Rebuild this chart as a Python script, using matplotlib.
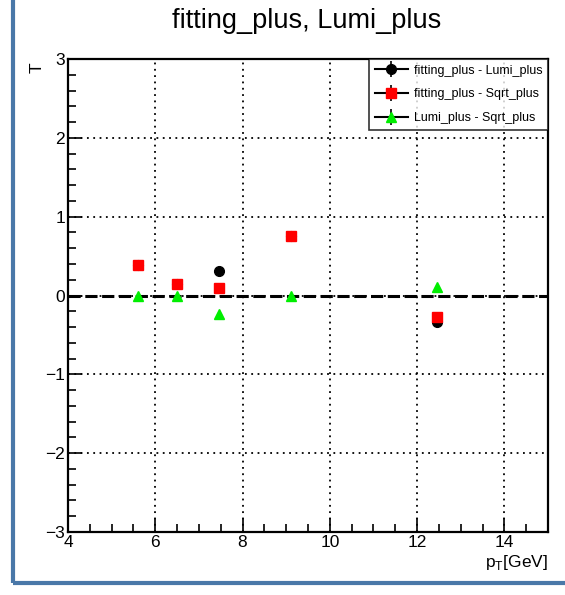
import matplotlib
matplotlib.use("Agg")
import matplotlib.pyplot as plt
from matplotlib.ticker import MultipleLocator
from matplotlib.lines import Line2D
from matplotlib.patches import Rectangle

plt.rcParams['font.family'] = ['Liberation Sans', 'DejaVu Sans']

title = "fitting_plus, Lumi_plus"
labels = ["fitting_plus - Lumi_plus", "fitting_plus - Sqrt_plus", "Lumi_plus - Sqrt_plus"]
pt = [5.6, 6.5, 7.47, 9.1, 12.45]
t_fit_lumi = [0.39, 0.15, 0.31, 0.76, -0.33]
t_fit_sqrt = [0.39, 0.15, 0.10, 0.76, -0.27]
t_lumi_sqrt = [-0.01, 0.0, -0.23, 0.0, 0.11]

W, H = 565, 595
fig = plt.figure(figsize=(W/100, H/100), dpi=100)
L, R, T, B = 68, 548, 59, 532
ax = fig.add_axes([L/W, 1-B/H, (R-L)/W, (B-T)/H])

ax.axhline(0, color='black', lw=2.2, ls=(0, (4, 1.5)), zorder=2)
ax.plot(pt, t_fit_lumi, 'o', color='black', ms=7, ls='none', zorder=3)
ax.plot(pt, t_fit_sqrt, 's', color='red', ms=7, ls='none', zorder=4)
ax.plot(pt, t_lumi_sqrt, '^', color='#00ee00', ms=7, ls='none', zorder=5)

ax.set_xlim(4, 15)
ax.set_ylim(-3, 3)
ax.xaxis.set_major_locator(MultipleLocator(2))
ax.xaxis.set_minor_locator(MultipleLocator(0.5))
ax.yaxis.set_major_locator(MultipleLocator(1))
ax.yaxis.set_minor_locator(MultipleLocator(0.2))
ax.tick_params(which='both', direction='in', top=False, right=False, labelsize=12.5, width=1.2)
ax.tick_params(which='major', length=10, pad=2)
ax.tick_params(which='minor', length=6)
ax.grid(True, which='major', color='black', ls=(0, (1, 2.5)), lw=1.3)
for s in ax.spines.values():
    s.set_linewidth(1.6)

fig.text(307/W, 1-28/H, title, ha='center', va='baseline', fontsize=19.5)
fig.text(37/W, 1-68/H, 'T', rotation=90, ha='center', va='center', fontsize=12.5)
fig.text(548/W, 1-563/H, r'p$_{\mathregular{T}}$[GeV]', ha='right', va='center', fontsize=12.5)

def h(marker, color):
    m = Line2D([], [], color='black', marker=marker, mfc=color, mec=color, ms=7, lw=1.5)
    bar = Line2D([], [], color='black', marker='|', ms=11, mew=1.2, ls='none')
    return (bar, m)

handles = [h('o', 'black'), h('s', 'red'), h('^', '#00ee00')]
leg = ax.legend(handles, labels, loc='upper right', fontsize=9, frameon=True, fancybox=False,
                edgecolor='black', borderaxespad=0, handlelength=2.6, labelspacing=0.95,
                borderpad=0.45, handletextpad=0.5)
leg.get_frame().set_linewidth(1.2)

# blue frame around figure
fig.patches.append(Rectangle((13/W, 1-583/H), 600/W, 1.0, transform=fig.transFigure,
                             fill=False, edgecolor='#4a78a8', lw=3, clip_on=False))

fig.savefig('out.png', dpi=100)
